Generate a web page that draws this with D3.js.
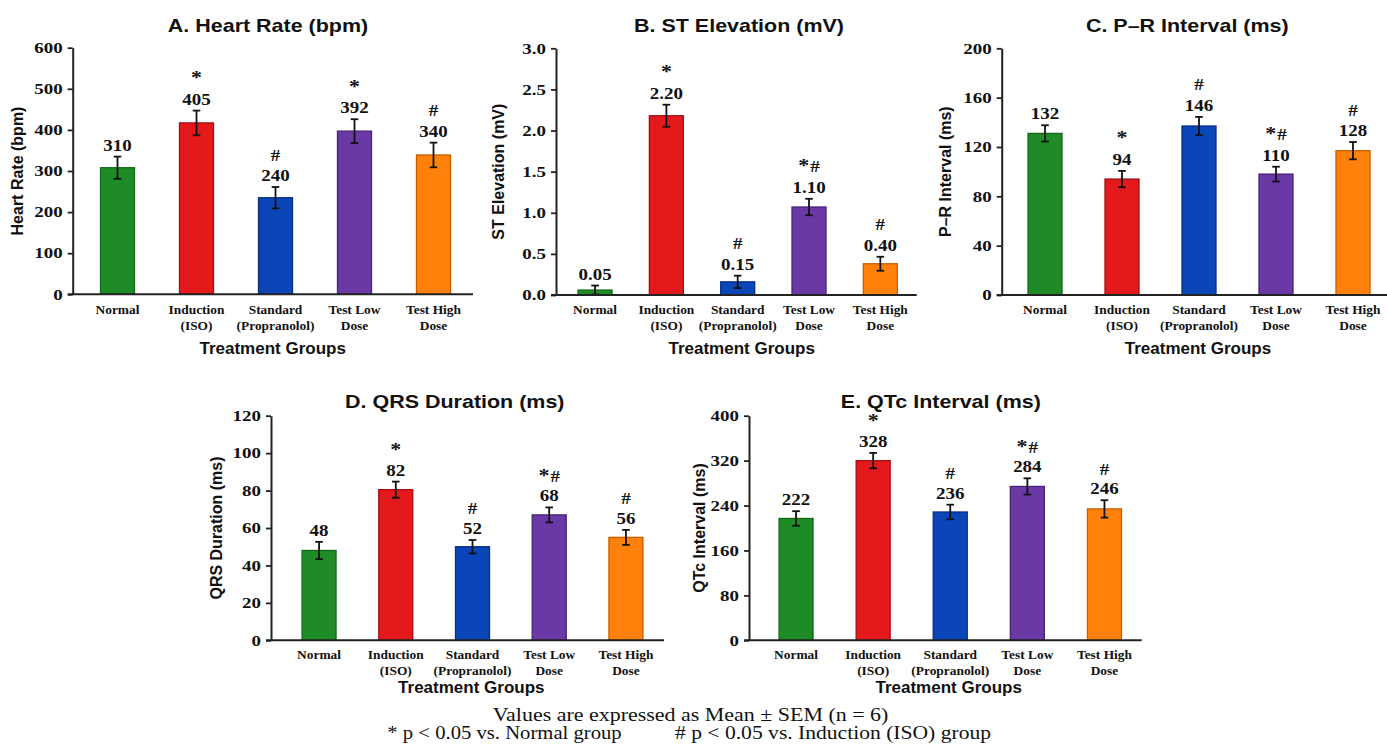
<!DOCTYPE html>
<html>
<head>
<meta charset="utf-8">
<script src="https://cdn.jsdelivr.net/npm/d3@7"></script>
<style>
  html, body { margin: 0; padding: 0; background: #fff; }
  svg { display: block; }
</style>
</head>
<body>
<svg id="chart" width="1387" height="748"></svg>
<script>
// ---------------- DATA ----------------
const categoryLines = [["Normal"], ["Induction", "(ISO)"], ["Standard", "(Propranolol)"], ["Test Low", "Dose"], ["Test High", "Dose"]];

const heartRate      = [308, 417, 235, 397, 339];
const heartRateSem   = [27, 30, 26, 29, 30];
const heartRateLabel = ["310", "405", "240", "392", "340"];
const heartRateSig   = ["", "*", "#", "*", "#"];

const stElevation      = [0.06, 2.18, 0.16, 1.07, 0.38];
const stElevationSem   = [0.055, 0.134, 0.075, 0.10, 0.085];
const stElevationLabel = ["0.05", "2.20", "0.15", "1.10", "0.40"];
const stElevationSig   = ["", "*", "#", "*#", "#"];

const prInterval      = [131, 94, 137, 98, 117];
const prIntervalSem   = [6.6, 6.6, 7.4, 6, 7];
const prIntervalLabel = ["132", "94", "146", "110", "128"];
const prIntervalSig   = ["", "*", "#", "*#", "#"];

const qrsDuration      = [48, 80.5, 50, 67, 55];
const qrsDurationSem   = [4.6, 4.3, 3.6, 4, 4];
const qrsDurationLabel = ["48", "82", "52", "68", "56"];
const qrsDurationSig   = ["", "*", "#", "*#", "#"];

const qtcInterval      = [217, 320, 228.5, 274, 234];
const qtcIntervalSem   = [13, 13.7, 13, 14.5, 15.5];
const qtcIntervalLabel = ["222", "328", "236", "284", "246"];
const qtcIntervalSig   = ["", "*", "#", "*#", "#"];

const yTicksHR  = [0, 100, 200, 300, 400, 500, 600];
const yTicksST  = [0, 0.5, 1.0, 1.5, 2.0, 2.5, 3.0];
const yTicksPR  = [0, 40, 80, 120, 160, 200];
const yTicksQRS = [0, 20, 40, 60, 80, 100, 120];
const yTicksQTc = [0, 80, 160, 240, 320, 400];

const footerLine1 = "Values are expressed as Mean \u00B1 SEM (n = 6)";
const footerLine2a = "* p < 0.05 vs. Normal group";
const footerLine2b = "# p < 0.05 vs. Induction (ISO) group";

// ---------------- STYLE / LAYOUT ----------------
const fills   = ["#1f8b26", "#e3191c", "#0b46b8", "#6a39a6", "#ff800a"];
const strokes = ["#146a1a", "#a01014", "#0a2d85", "#45227a", "#c75e00"];
const SANS = "'Liberation Sans', Arial, Helvetica, sans-serif";
const SERIF = "'Liberation Serif', 'Times New Roman', Times, serif";
const INK = "#111";

const panels = [
  { title: "A. Heart Rate (bpm)", yLabel: "Heart Rate (bpm)", values: heartRate, sem: heartRateSem, labels: heartRateLabel, sig: heartRateSig,
    ticks: yTicksHR, fmt: d3.format("d"),
    axisX: 72.7, r0: 78, r1: 473, xEnd: 473, yTop: 47.7, yBot: 294.3,
    titleX: 268, titleY: 31.7, yLabX: 16.7, xLabX: 272.7, xLabY: 354, catY: 314.3, markGap: 20.5 },
  { title: "B. ST Elevation (mV)", yLabel: "ST Elevation (mV)", values: stElevation, sem: stElevationSem, labels: stElevationLabel, sig: stElevationSig,
    ticks: yTicksST, fmt: d3.format(".1f"),
    axisX: 556, r0: 559.4, r1: 916, xEnd: 916.7, yTop: 48.3, yBot: 295,
    titleX: 739, titleY: 31.7, yLabX: 497.7, xLabX: 741.7, xLabY: 354, catY: 314.3, markGap: 20.5 },
  { title: "C. P\u2013R Interval (ms)", yLabel: "P\u2013R Interval (ms)", values: prInterval, sem: prIntervalSem, labels: prIntervalLabel, sig: prIntervalSig,
    ticks: yTicksPR, fmt: d3.format("d"),
    axisX: 1001.7, r0: 1006.5, r1: 1391.5, xEnd: 1387, yTop: 48.3, yBot: 295,
    titleX: 1187.3, titleY: 31.7, yLabX: 945, xLabX: 1198, xLabY: 354, catY: 314.3, markGap: 20.5 },
  { title: "D. QRS Duration (ms)", yLabel: "QRS Duration (ms)", values: qrsDuration, sem: qrsDurationSem, labels: qrsDurationLabel, sig: qrsDurationSig,
    ticks: yTicksQRS, fmt: d3.format("d"),
    axisX: 271, r0: 280.7, r1: 664.3, xEnd: 664, yTop: 415.7, yBot: 640.3,
    titleX: 454.8, titleY: 408, yLabX: 216, xLabX: 471.3, xLabY: 693.3, catY: 659, markGap: 19.5 },
  { title: "E. QTc Interval (ms)", yLabel: "QTc Interval (ms)", values: qtcInterval, sem: qtcIntervalSem, labels: qtcIntervalLabel, sig: qtcIntervalSig,
    ticks: yTicksQTc, fmt: d3.format("d"),
    axisX: 749, r0: 757.5, r1: 1143, xEnd: 1141.7, yTop: 415.7, yBot: 640.3,
    titleX: 940.8, titleY: 408, yLabX: 699.3, xLabX: 948.7, xLabY: 693.3, catY: 659, markGap: 19.5 }
];

const svg = d3.select("#chart");
svg.append("rect").attr("width", 1387).attr("height", 748).attr("fill", "#fff");

function drawPanel(p) {
  const g = svg.append("g");
  const n = p.values.length;
  const x = d3.scaleBand().domain(d3.range(n)).range([p.r0, p.r1]).padding(0);
  const y = d3.scaleLinear().domain([0, p.ticks[p.ticks.length - 1]]).range([p.yBot, p.yTop]);
  const barW = 34;
  const cx = i => x(i) + x.bandwidth() / 2;

  // bars
  g.selectAll("rect.bar").data(p.values).join("rect")
    .attr("class", "bar")
    .attr("x", (d, i) => cx(i) - barW / 2)
    .attr("y", d => y(d))
    .attr("width", barW)
    .attr("height", d => y(0) - y(d))
    .attr("fill", (d, i) => fills[i])
    .attr("stroke", (d, i) => strokes[i])
    .attr("stroke-width", 1.3);

  // error bars
  const eb = g.selectAll("g.eb").data(p.values).join("g").attr("class", "eb")
    .attr("stroke", INK).attr("stroke-width", 1.8);
  eb.append("line")
    .attr("x1", (d, i) => cx(i)).attr("x2", (d, i) => cx(i))
    .attr("y1", (d, i) => y(d + p.sem[i])).attr("y2", (d, i) => y(d - p.sem[i]));
  eb.append("line")
    .attr("x1", (d, i) => cx(i) - 3.8).attr("x2", (d, i) => cx(i) + 3.8)
    .attr("y1", (d, i) => y(d + p.sem[i])).attr("y2", (d, i) => y(d + p.sem[i]));
  eb.append("line")
    .attr("x1", (d, i) => cx(i) - 3.8).attr("x2", (d, i) => cx(i) + 3.8)
    .attr("y1", (d, i) => y(d - p.sem[i])).attr("y2", (d, i) => y(d - p.sem[i]));

  // value labels
  g.selectAll("text.val").data(p.values).join("text")
    .attr("class", "val")
    .attr("transform", (d, i) => `translate(${cx(i)},${y(d + p.sem[i]) - 6}) scale(1.15,1)`)
    .attr("text-anchor", "middle")
    .attr("font-family", SERIF).attr("font-weight", "bold").attr("font-size", 16.5)
    .attr("fill", INK)
    .text((d, i) => p.labels[i]);

  // significance markers: larger asterisk, regular-size hash
  const sig = g.selectAll("text.sig").data(p.values).join("text")
    .attr("class", "sig")
    .attr("transform", (d, i) => `translate(${cx(i)},${y(d + p.sem[i]) - 6 - p.markGap}) scale(1.12,1)`)
    .attr("text-anchor", "middle")
    .attr("font-family", SERIF).attr("font-weight", "bold")
    .attr("fill", INK);
  sig.each(function(d, i) {
    const t = d3.select(this);
    Array.from(p.sig[i]).forEach((ch, k) => {
      t.append("tspan")
        .attr("font-size", ch === "*" ? 19.5 : 17)
        .attr("dx", k > 0 ? 1 : 0)
        .text(ch);
    });
  });

  // y axis
  const yAxis = d3.axisLeft(y).tickValues(p.ticks).tickFormat(p.fmt).tickSize(5).tickSizeOuter(0).tickPadding(5);
  const ya = g.append("g").attr("transform", `translate(${p.axisX},0)`).call(yAxis);
  ya.select(".domain").attr("stroke", "#222").attr("stroke-width", 2);
  ya.selectAll(".tick line").attr("stroke", "#222").attr("stroke-width", 1.8);
  ya.selectAll(".tick text")
    .attr("x", 0)
    .attr("transform", "translate(-10,0) scale(1.28,1)")
    .attr("font-family", SERIF).attr("font-weight", "bold").attr("font-size", 14.8)
    .attr("fill", INK);

  // x axis line
  g.append("line")
    .attr("x1", p.axisX - 5).attr("x2", p.xEnd)
    .attr("y1", y(0)).attr("y2", y(0))
    .attr("stroke", "#222").attr("stroke-width", 2);

  // category labels
  const cat = g.selectAll("text.cat").data(categoryLines).join("text")
    .attr("class", "cat")
    .attr("text-anchor", "middle")
    .attr("font-family", SERIF).attr("font-weight", "bold").attr("font-size", 13.4)
    .attr("fill", INK);
  cat.each(function(lines, i) {
    const t = d3.select(this);
    lines.forEach((ln, k) => {
      t.append("tspan").attr("x", cx(i)).attr("y", p.catY + k * 15.5).text(ln);
    });
  });

  // x axis title
  g.append("text")
    .attr("x", p.xLabX).attr("y", p.xLabY)
    .attr("text-anchor", "middle")
    .attr("font-family", SANS).attr("font-weight", "bold").attr("font-size", 17)
    .attr("fill", INK)
    .text("Treatment Groups");

  // y axis title
  g.append("text")
    .attr("transform", `translate(${p.yLabX + 6},${(p.yTop + p.yBot) / 2}) rotate(-90)`)
    .attr("text-anchor", "middle")
    .attr("font-family", SANS).attr("font-weight", "bold").attr("font-size", 16)
    .attr("fill", INK)
    .text(p.yLabel);

  // panel title
  g.append("text")
    .attr("transform", `translate(${p.titleX},${p.titleY}) scale(1.13,1)`)
    .attr("text-anchor", "middle")
    .attr("font-family", SANS).attr("font-weight", "bold").attr("font-size", 19)
    .attr("fill", INK)
    .text(p.title);
}

panels.forEach(drawPanel);

// footer
svg.append("text")
  .attr("transform", "translate(690.5,721) scale(1.2,1)")
  .attr("text-anchor", "middle")
  .attr("font-family", SERIF).attr("font-size", 18.3).attr("fill", INK)
  .text(footerLine1);
svg.append("text")
  .attr("transform", "translate(387.3,739) scale(1.13,1)")
  .attr("text-anchor", "start")
  .attr("font-family", SERIF).attr("font-size", 18.3).attr("fill", INK)
  .text(footerLine2a);
svg.append("text")
  .attr("transform", "translate(675,739) scale(1.18,1)")
  .attr("text-anchor", "start")
  .attr("font-family", SERIF).attr("font-size", 18.3).attr("fill", INK)
  .text(footerLine2b);
</script>
</body>
</html>
